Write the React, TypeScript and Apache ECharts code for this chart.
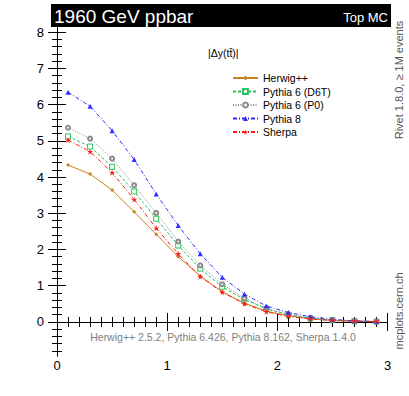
import React, { useEffect, useRef } from "react";
import * as echarts from "echarts";

const binCenters = [0.1, 0.3, 0.5, 0.7, 0.9, 1.1, 1.3, 1.5, 1.7, 1.9, 2.1, 2.3, 2.5, 2.7, 2.9];
const herwig = [4.33, 4.08, 3.64, 3.04, 2.42, 1.8, 1.27, 0.83, 0.52, 0.3, 0.17, 0.09, 0.04, 0.02, 0.01];
const pythia6D6T = [5.12, 4.84, 4.28, 3.6, 2.85, 2.11, 1.47, 0.97, 0.62, 0.36, 0.2, 0.1, 0.05, 0.02, 0.01];
const pythia6P0 = [5.36, 5.06, 4.51, 3.77, 3.01, 2.22, 1.56, 1.04, 0.65, 0.38, 0.21, 0.11, 0.05, 0.03, 0.01];
const pythia8 = [6.34, 5.95, 5.28, 4.48, 3.53, 2.66, 1.88, 1.23, 0.77, 0.44, 0.26, 0.14, 0.07, 0.03, 0.01];
const sherpa = [5.02, 4.7, 4.12, 3.38, 2.59, 1.88, 1.25, 0.82, 0.5, 0.28, 0.15, 0.08, 0.04, 0.02, 0.01];

const xMajor = [0, 1, 2, 3];
const yMajor = [0, 1, 2, 3, 4, 5, 6, 7, 8];
const X_MIN = -0.055;
const X_MAX = 3;
const Y_MIN = -0.94;
const Y_MAX = 8.14;

const FONT = '"Liberation Sans", Arial, Helvetica, sans-serif';

function steps(from: number, to: number, step: number): number[] {
  const out: number[] = [];
  const n = Math.round((to - from) / step);
  for (let i = 0; i <= n; i++) out.push(Math.round((from + i * step) * 1000) / 1000);
  return out;
}
const xMinor = steps(0, 3, 0.1);
const yMinor = steps(-0.8, 8, 0.2);

const toPairs = (ys: number[]) => binCenters.map((x, i) => [x, ys[i]]);

const STAR =
  "path://M0,-1 L0.22,-0.31 L0.95,-0.31 L0.36,0.12 L0.59,0.81 L0,0.38 L-0.59,0.81 L-0.36,0.12 L-0.95,-0.31 L-0.22,-0.31 Z";

export default function App() {
  const ref = useRef<HTMLDivElement>(null);
  useEffect(() => {
    if (!ref.current) return;
    const chart = echarts.init(ref.current, null, { renderer: "svg" });
    const black = "#000";
    const mkX = (pos: "top" | "bottom", major: boolean, showLine: boolean, showLabel: boolean) => ({
      type: "value",
      position: pos,
      min: X_MIN,
      max: X_MAX,
      axisLine: { show: showLine, lineStyle: { color: black, width: 1 } },
      axisTick: {
        show: true,
        inside: true,
        length: major ? 9 : 5,
        customValues: major ? xMajor : xMinor,
        lineStyle: { color: black, width: 1 },
      },
      axisLabel: {
        show: showLabel,
        customValues: xMajor,
        fontSize: 13,
        color: black,
        fontFamily: FONT,
        margin: 3,
      },
      splitLine: { show: false },
    });
    const mkY = (pos: "left" | "right", major: boolean, showLine: boolean, showLabel: boolean) => ({
      type: "value",
      position: pos,
      min: Y_MIN,
      max: Y_MAX,
      axisLine: { show: showLine, lineStyle: { color: black, width: 1 } },
      axisTick: {
        show: true,
        inside: true,
        length: major ? 9 : 5,
        customValues: major ? yMajor : yMinor,
        lineStyle: { color: black, width: 1 },
      },
      axisLabel: {
        show: showLabel,
        customValues: yMajor,
        fontSize: 13,
        color: black,
        fontFamily: FONT,
        margin: 7,
      },
      splitLine: { show: false },
    });

    const option: any = {
      animation: false,
      backgroundColor: "#fff",
      textStyle: { fontFamily: FONT },
      grid: { left: 51, top: 27, width: 336.5, height: 329, containLabel: false },
      xAxis: [
        mkX("bottom", true, true, true),
        mkX("bottom", false, false, false),
        mkX("top", true, true, false),
        mkX("top", false, false, false),
      ],
      yAxis: [
        mkY("left", true, true, true),
        mkY("left", false, false, false),
        mkY("right", true, true, false),
        mkY("right", false, false, false),
      ],
      legend: {
        orient: "vertical",
        left: 232,
        top: 72.5,
        padding: 0,
        itemWidth: 25,
        itemHeight: 6,
        itemGap: 2.5,
        textStyle: { fontSize: 10.5, color: "#000", fontFamily: FONT },
        data: ["Herwig++", "Pythia 6 (D6T)", "Pythia 6 (P0)", "Pythia 8", "Sherpa"],
      },
      series: [
        {
          name: "Herwig++",
          type: "line",
          data: toPairs(herwig),
          symbol: "diamond",
          symbolSize: 4,
          lineStyle: { color: "#c8821e", width: 1, type: "solid" },
          itemStyle: { color: "#c8821e" },
          z: 2,
        },
        {
          name: "Pythia 6 (D6T)",
          type: "line",
          data: toPairs(pythia6D6T),
          symbol: "rect",
          symbolSize: 5,
          lineStyle: { color: "#22c45a", width: 1, type: [3, 2] },
          itemStyle: { color: "#fff", borderColor: "#22c45a", borderWidth: 1 },
          z: 3,
        },
        {
          name: "Pythia 6 (P0)",
          type: "line",
          data: toPairs(pythia6P0),
          symbol: "emptyCircle",
          symbolSize: 4,
          lineStyle: { color: "#8a8a8a", width: 1, type: [1, 1.5] },
          itemStyle: { color: "#8a8a8a", borderColor: "#8a8a8a", borderWidth: 1 },
          z: 3,
        },
        {
          name: "Pythia 8",
          type: "line",
          data: toPairs(pythia8),
          symbol: "triangle",
          symbolSize: 5,
          lineStyle: { color: "#2b2bff", width: 1, type: [4, 2, 1, 2] },
          itemStyle: { color: "#2b2bff" },
          z: 4,
        },
        {
          name: "Sherpa",
          type: "line",
          data: toPairs(sherpa),
          symbol: STAR,
          symbolSize: 6,
          lineStyle: { color: "#ff1a1a", width: 1, type: [4, 2, 1, 2] },
          itemStyle: { color: "#ff1a1a" },
          z: 5,
        },
      ],
      graphic: [
        {
          type: "rect",
          shape: { x: 51, y: 4, width: 340, height: 23 },
          style: { fill: "#000" },
          z: 10,
        },
        {
          type: "text",
          x: 54,
          y: 16,
          style: {
            text: "1960 GeV ppbar",
            fill: "#fff",
            font: `19px ${FONT}`,
            textVerticalAlign: "middle",
            textAlign: "left",
          },
          z: 11,
        },
        {
          type: "text",
          x: 388,
          y: 17,
          style: {
            text: "Top MC",
            fill: "#fff",
            font: `13px ${FONT}`,
            textVerticalAlign: "middle",
            textAlign: "right",
          },
          z: 11,
        },
        {
          type: "text",
          x: 208,
          y: 53,
          style: {
            text: "|\u0394y(tt\u0304)|",
            fill: "#000",
            font: `10.5px ${FONT}`,
            textVerticalAlign: "middle",
            textAlign: "left",
          },
          z: 11,
        },
        {
          type: "text",
          x: 223,
          y: 337,
          style: {
            text: "Herwig++ 2.5.2, Pythia 6.426, Pythia 8.162, Sherpa 1.4.0",
            fill: "#808080",
            font: `10.5px ${FONT}`,
            textVerticalAlign: "middle",
            textAlign: "center",
          },
          z: 11,
        },
        {
          type: "text",
          x: 399,
          y: 80,
          rotation: Math.PI / 2,
          style: {
            text: "Rivet 1.8.0, \u2265 1M events",
            fill: "#555",
            font: `11px ${FONT}`,
            textVerticalAlign: "middle",
            textAlign: "center",
          },
          z: 11,
        },
        {
          type: "text",
          x: 399,
          y: 311,
          rotation: Math.PI / 2,
          style: {
            text: "mcplots.cern.ch",
            fill: "#555",
            font: `11px ${FONT}`,
            textVerticalAlign: "middle",
            textAlign: "center",
          },
          z: 11,
        },
      ],
    };
    chart.setOption(option);
    return () => chart.dispose();
  }, []);
  return (
    <div
      ref={ref}
      style={{ position: "fixed", left: 0, top: 0, width: 409, height: 396, background: "#fff" }}
    />
  );
}
